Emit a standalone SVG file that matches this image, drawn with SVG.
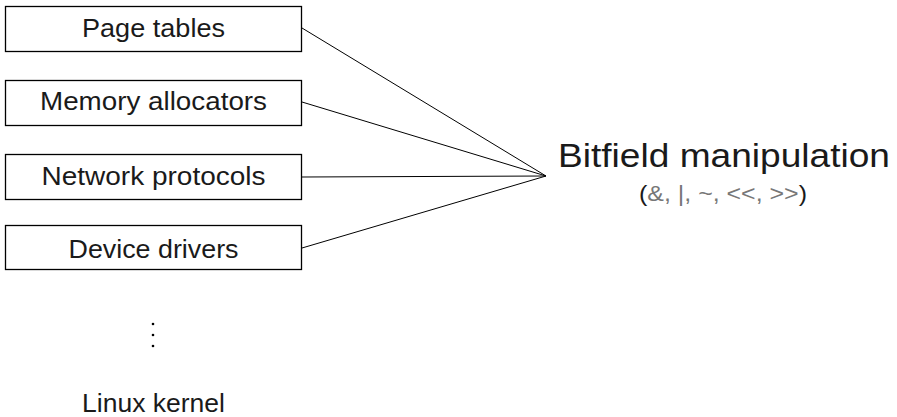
<svg xmlns="http://www.w3.org/2000/svg" width="897" height="417" viewBox="0 0 897 417">
<style>
.box{fill:#fff;stroke:#000;stroke-width:1.3}
.t{font-family:"Liberation Sans",Arial,sans-serif;fill:#1a1a1a;text-anchor:middle}
.lbl{font-size:26px}
.conn line{stroke:#000;stroke-width:1}
.op{fill:#777}
</style>
<rect width="897" height="417" fill="#fff"/>
<g class="conn">
<line x1="302" y1="28" x2="546" y2="176"/>
<line x1="302" y1="102" x2="546" y2="176"/>
<line x1="302" y1="177" x2="546" y2="176"/>
<line x1="302" y1="248" x2="546" y2="176"/>
</g>
<g id="page-tables">
<rect class="box" x="5.5" y="6.5" width="296" height="45"/>
<text class="t lbl" x="153.5" y="37" textLength="143" lengthAdjust="spacingAndGlyphs">Page tables</text>
</g>
<g id="memory-allocators">
<rect class="box" x="5.5" y="80.5" width="296" height="45"/>
<text class="t lbl" x="153.5" y="110" textLength="227" lengthAdjust="spacingAndGlyphs">Memory allocators</text>
</g>
<g id="network-protocols">
<rect class="box" x="5.5" y="154.5" width="296" height="45"/>
<text class="t lbl" x="153.5" y="185" textLength="224" lengthAdjust="spacingAndGlyphs">Network protocols</text>
</g>
<g id="device-drivers">
<rect class="box" x="5.5" y="225.5" width="296" height="44"/>
<text class="t lbl" x="153.5" y="258" textLength="170" lengthAdjust="spacingAndGlyphs">Device drivers</text>
</g>
<g id="ellipsis">
<circle cx="153" cy="324" r="1.3" fill="#000"/>
<circle cx="153" cy="335" r="1.3" fill="#000"/>
<circle cx="153" cy="346" r="1.3" fill="#000"/>
</g>
<g id="linux-kernel">
<text class="t" style="font-size:25px" x="153.5" y="412" textLength="143" lengthAdjust="spacingAndGlyphs">Linux kernel</text>
</g>
<g id="bitfield">
<text class="t" style="font-size:33px" x="724" y="167" textLength="332" lengthAdjust="spacingAndGlyphs">Bitfield manipulation</text>
<text class="t" style="font-size:22px" x="723" y="201" textLength="168" lengthAdjust="spacingAndGlyphs">(<tspan class="op">&amp;, |, ~, &lt;&lt;, &gt;&gt;</tspan>)</text>
</g>
</svg>
